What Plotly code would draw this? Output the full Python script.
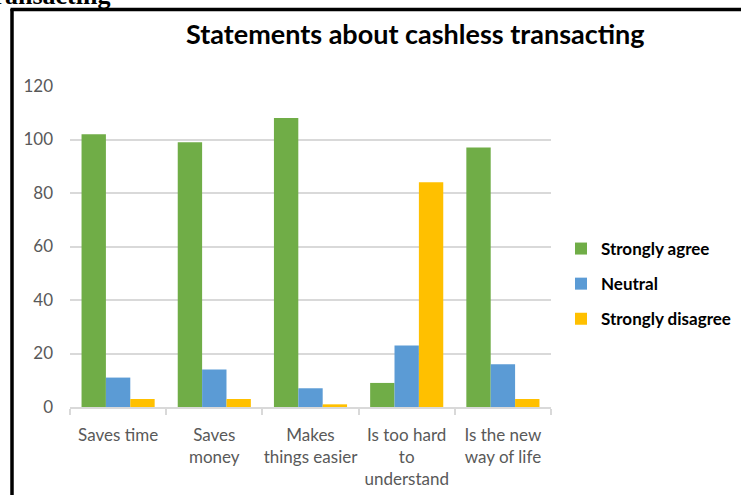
import plotly.graph_objects as go

categories = ["Saves time", "Saves<br>money", "Makes<br>things easier", "Is too hard<br>to<br>understand", "Is the new<br>way of life"]
strongly_agree = [102, 99, 108, 9, 97]
neutral = [11, 14, 7, 23, 16]
strongly_disagree = [3, 3, 1, 84, 3]
series_names = ["Strongly agree", "Neutral", "Strongly disagree"]
colors = ["#70AD47", "#5B9BD5", "#FFC000"]
y_ticks = [0, 20, 40, 60, 80, 100, 120]

W, H = 741, 495
L, R, T, B = 70, 551, 86, 407

def px(x):
    return (x - L) / (R - L)

def py(y):
    return (B - y) / (B - T)

fig = go.Figure()
for name, vals, col in zip(series_names, [strongly_agree, neutral, strongly_disagree], colors):
    fig.add_trace(go.Bar(x=categories, y=vals, name=name, marker=dict(color=col, line=dict(width=0)),
                         legendgroup=name))

fig.update_layout(
    width=W, height=H,
    margin=dict(l=L, r=W - R, t=T, b=H - B, pad=0, autoexpand=False),
    paper_bgcolor="white", plot_bgcolor="white",
    barmode="group", bargap=0.24, bargroupgap=0,
    font=dict(family="Lato, Open Sans, sans-serif", color="#595959", size=17),
    showlegend=True,
    legend=dict(xref="container", yref="container", x=561 / W, y=1 - 231 / H, xanchor="left", yanchor="top",
                font=dict(family="Lato, sans-serif", size=17, color="black", weight="bold"),
                traceorder="grouped", tracegroupgap=10, bgcolor="rgba(0,0,0,0)"),
    xaxis=dict(showline=True, linecolor="#d9d9d9", linewidth=1.5, ticks="outside", tickson="boundaries",
               ticklen=6, tickcolor="#d9d9d9", tickwidth=1.5, showgrid=False, ticklabelstandoff=12,
               tickangle=0, automargin=False,
               tickfont=dict(size=17, color="#595959")),
    yaxis=dict(range=[0, 120], tickvals=y_ticks, showgrid=True, gridcolor="#d9d9d9", gridwidth=1.5,
               zeroline=False, showline=False, ticks="", ticklabelstandoff=16, automargin=False,
               tickfont=dict(size=17, color="#595959")),
)

fig.add_annotation(text="<b>Statements about cashless transacting</b>", xref="paper", yref="paper",
                   x=px(415), y=py(33), xanchor="center", yanchor="middle", showarrow=False,
                   font=dict(family="Lato, sans-serif", size=27, color="black"))

fig.add_annotation(text="<b>Transacting</b>", xref="paper", yref="paper",
                   x=px(112), y=py(12), xanchor="right", yanchor="bottom", showarrow=False,
                   font=dict(family="Liberation Serif, serif", size=26, color="black"))

fig.add_shape(type="line", xref="paper", yref="paper", x0=px(12), x1=px(12), y0=py(9), y1=py(520),
              line=dict(color="black", width=3.5))
fig.add_shape(type="line", xref="paper", yref="paper", x0=px(10.5), x1=px(800), y0=py(9.5), y1=py(9.5),
              line=dict(color="black", width=3.5))

fig.write_html("out.html")
